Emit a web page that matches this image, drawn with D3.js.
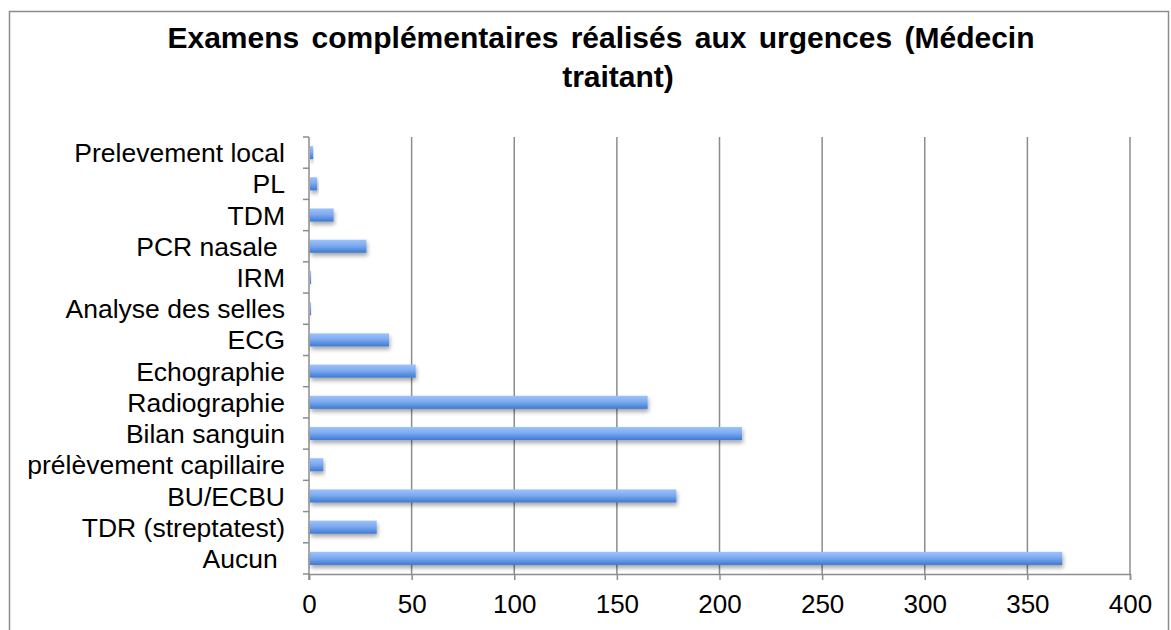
<!DOCTYPE html>
<html>
<head>
<meta charset="utf-8">
<script src="https://cdn.jsdelivr.net/npm/d3@7"></script>
<style>
  body { margin: 0; background: #fff; }
  svg { display: block; }
</style>
</head>
<body>
<svg id="chart" width="1171" height="630"></svg>
<script>
// categories, top to bottom as drawn
var categories = [
  "Prelevement local", "PL", "TDM", "PCR nasale ", "IRM", "Analyse des selles",
  "ECG", "Echographie", "Radiographie", "Bilan sanguin",
  "prélèvement capillaire", "BU/ECBU", "TDR (streptatest)", "Aucun "
];
var values = [2, 4, 12, 28, 1, 1, 39, 52, 165, 211, 7, 179, 33, 367];
var xTicks = [0, 50, 100, 150, 200, 250, 300, 350, 400];
var titleLines = ["Examens complémentaires réalisés aux urgences (Médecin", "traitant)"];

var font = "'Liberation Sans', Arial, sans-serif";
var gridColor = "#8c8c8c";

var svg = d3.select("#chart");
var plotLeft = 309, plotRight = 1130, plotTop = 137, plotBottom = 574;

var x = d3.scaleLinear().domain([0, 400]).range([plotLeft, plotRight]);
var y = d3.scaleBand().domain(categories).range([plotTop, plotBottom]).paddingInner(0.58).paddingOuter(0.29);

// outer frame
svg.append("rect")
  .attr("x", 9.5).attr("y", 11.5)
  .attr("width", 1159).attr("height", 640)
  .attr("fill", "#fff")
  .attr("stroke", gridColor).attr("stroke-width", 1.5);

var defs = svg.append("defs");
var grad = defs.append("linearGradient").attr("id", "barGrad")
  .attr("x1", 0).attr("y1", 0).attr("x2", 0).attr("y2", 1);
grad.append("stop").attr("offset", "0%").attr("stop-color", "#9dc3fb");
grad.append("stop").attr("offset", "45%").attr("stop-color", "#7eaaf0");
grad.append("stop").attr("offset", "100%").attr("stop-color", "#3d7ad2");

var shadow = defs.append("filter").attr("id", "shadow")
  .attr("x", "-5%").attr("y", "-50%").attr("width", "120%").attr("height", "250%");
shadow.append("feGaussianBlur").attr("in", "SourceAlpha").attr("stdDeviation", 2);
shadow.append("feOffset").attr("dx", 1).attr("dy", 3).attr("result", "off");
shadow.append("feComponentTransfer").append("feFuncA").attr("type", "linear").attr("slope", 0.35);
var merge = shadow.append("feMerge");
merge.append("feMergeNode");
merge.append("feMergeNode").attr("in", "SourceGraphic");

// title (second line sits a bit right of centre in the original)
var titleX = [601, 618];
svg.append("g").selectAll("text")
  .data(titleLines)
  .enter()
  .append("text")
  .attr("x", function (d, i) { return titleX[i]; })
  .attr("y", function (d, i) { return 48 + i * 39; })
  .attr("text-anchor", "middle")
  .attr("font-family", font)
  .attr("font-weight", "bold")
  .attr("font-size", "30px")
  .attr("word-spacing", "4px")
  .attr("fill", "#000")
  .text(function (d) { return d; });

// vertical gridlines
svg.append("g").selectAll("line")
  .data(xTicks.slice(1))
  .enter()
  .append("line")
  .attr("x1", function (d) { return x(d); })
  .attr("x2", function (d) { return x(d); })
  .attr("y1", plotTop).attr("y2", plotBottom)
  .attr("stroke", gridColor).attr("stroke-width", 1.5);

// bottom axis
var xAxis = svg.append("g")
  .attr("transform", "translate(0," + plotBottom + ")")
  .call(d3.axisBottom(x).tickValues(xTicks).tickSize(6).tickPadding(15));
xAxis.select(".domain").attr("stroke", gridColor).attr("stroke-width", 1.5);
xAxis.selectAll(".tick line").attr("stroke", gridColor).attr("stroke-width", 1.5);
xAxis.selectAll("text")
  .attr("font-family", font).attr("font-size", "26px").attr("fill", "#000");

// left axis with ticks between categories
var yBounds = d3.range(categories.length + 1).map(function (i) {
  return plotTop + i * (plotBottom - plotTop) / categories.length;
});
svg.append("line")
  .attr("x1", plotLeft).attr("x2", plotLeft).attr("y1", plotTop).attr("y2", plotBottom + 6)
  .attr("stroke", gridColor).attr("stroke-width", 1.5);
svg.append("g").selectAll("line")
  .data(yBounds)
  .enter()
  .append("line")
  .attr("x1", plotLeft - 6).attr("x2", plotLeft)
  .attr("y1", function (d) { return d; })
  .attr("y2", function (d) { return d; })
  .attr("stroke", gridColor).attr("stroke-width", 1.5);

svg.append("g").selectAll("text")
  .data(categories)
  .enter()
  .append("text")
  .attr("x", 285)
  .attr("y", function (d) { return y(d) + y.bandwidth() / 2; })
  .attr("dy", "0.36em")
  .attr("text-anchor", "end")
  .style("white-space", "pre")
  .attr("font-family", font)
  .attr("font-size", "26.5px")
  .attr("fill", "#000")
  .text(function (d) { return d; });

// bars
svg.append("g").selectAll("rect")
  .data(values)
  .enter()
  .append("rect")
  .attr("x", x(0) + 1)
  .attr("y", function (d, i) { return y(categories[i]); })
  .attr("width", function (d) { return x(d) - x(0) - 1; })
  .attr("height", y.bandwidth())
  .attr("fill", "url(#barGrad)")
  .attr("filter", "url(#shadow)");
</script>
</body>
</html>
